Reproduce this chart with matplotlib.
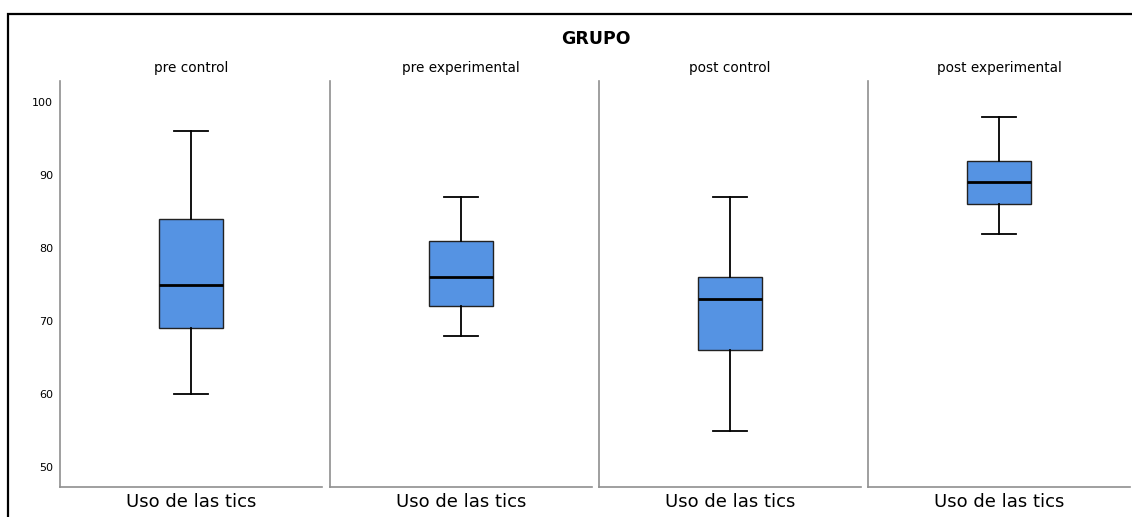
import matplotlib
matplotlib.use("Agg")
import matplotlib.pyplot as plt
from matplotlib.patches import Rectangle

plt.rcParams['font.family'] = ['DejaVu Sans']

groups = ["pre control", "pre experimental", "post control", "post experimental"]
whislo = [60, 68, 55, 82]
q1 = [69, 72, 66, 86]
med = [75, 76, 73, 89]
q3 = [84, 81, 76, 92]
whishi = [96, 87, 87, 98]
xlabel = "Uso de las tics"
yticks = [50, 60, 70, 80, 90, 100]

fig = plt.figure(figsize=(11.32, 5.17), dpi=100)
fig.patches.append(Rectangle((8/1132, -0.1), 1.2, 1 - 14/517 + 0.1, transform=fig.transFigure,
                             fill=False, edgecolor='black', linewidth=1.6))
fig.text(596/1132, 1 - 39/517, "GRUPO", ha='center', va='center', fontsize=12.5, fontweight='bold')

lefts = [60, 330, 599, 868]
pw = 262
bottom = 1 - 487/517
height = (487 - 81)/517
for i, g in enumerate(groups):
    ax = fig.add_axes([lefts[i]/1132, bottom, pw/1132, height])
    stats = [dict(whislo=whislo[i], q1=q1[i], med=med[i], q3=q3[i], whishi=whishi[i], fliers=[])]
    ax.bxp(stats, positions=[0], widths=0.245, patch_artist=True, showfliers=False,
           boxprops=dict(facecolor='#5593e3', edgecolor='#222222', linewidth=1.0),
           medianprops=dict(color='black', linewidth=2.0),
           whiskerprops=dict(color='black', linewidth=1.3),
           capprops=dict(color='black', linewidth=1.3),
           capwidths=0.13)
    ax.set_xlim(-0.5, 0.5)
    ax.set_ylim(47.26, 102.9)
    for s in ['top', 'right']:
        ax.spines[s].set_visible(False)
    for s in ['left', 'bottom']:
        ax.spines[s].set_color('#8f8f8f')
        ax.spines[s].set_linewidth(1.2)
    ax.set_xticks([])
    ax.set_yticks(yticks)
    ax.tick_params(axis='y', length=0, labelsize=8, pad=5)
    if i > 0:
        ax.set_yticklabels([])
    ax.set_xlabel(xlabel, fontsize=13, labelpad=4)
    ax.set_title(g, fontsize=9.8, pad=6.5)

fig.savefig("out.png", dpi=100)
